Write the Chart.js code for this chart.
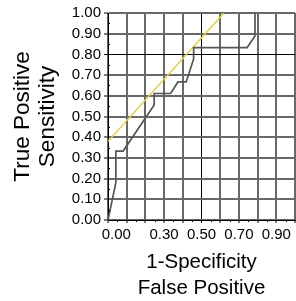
<!DOCTYPE html>
<html>
<head>
<meta charset="utf-8">
<script src="https://cdn.jsdelivr.net/npm/chart.js@4"></script>
<style>
html,body{margin:0;padding:0;background:#fff;overflow:hidden;}
#wrap{position:absolute;left:0;top:0;width:298px;height:301px;}
</style>
</head>
<body>
<div id="wrap"><canvas id="c" width="298" height="301"></canvas></div>
<script>
// ROC curve (1-specificity, sensitivity)
const rocX = [0, 0.042, 0.042, 0.081, 0.247, 0.247, 0.335, 0.374, 0.418, 0.458, 0.458, 0.744, 0.786, 0.786];
const rocY = [0, 0.18, 0.333, 0.333, 0.556, 0.611, 0.611, 0.667, 0.667, 0.778, 0.833, 0.833, 0.889, 1.0];
// Yellow reference line
const refX = [0, 0.62];
const refY = [0.38, 1.0];
// Tick labels
const yTickLabels = ['0.00','0.10','0.20','0.30','0.40','0.50','0.60','0.70','0.80','0.90','1.00'];
const xTickLabels = ['0.00','','','0.30','','0.50','','0.70','','0.90',''];
const minorTicks = [0.05,0.15,0.25,0.35,0.45,0.55,0.65,0.75,0.85,0.95];
const xTitle = ['1-Specificity','False Positive'];
const yTitle = ['True Positive','Sensitivity'];

const toPts = (xs, ys) => xs.map((v, i) => ({x: v, y: ys[i]}));

const minorPlugin = {
  id: 'minorTicks',
  afterDraw(chart) {
    const {ctx, scales: {x, y}, chartArea: a} = chart;
    ctx.save();
    ctx.strokeStyle = '#000';
    ctx.lineWidth = 1;
    ctx.beginPath();
    minorTicks.forEach(v => {
      const px = Math.round(x.getPixelForValue(v)) + 0.5;
      ctx.moveTo(px, a.bottom); ctx.lineTo(px, a.bottom + 2);
      const py = Math.round(y.getPixelForValue(v)) + 0.5;
      ctx.moveTo(a.left, py); ctx.lineTo(a.left + 2, py);
    });
    ctx.stroke();
    ctx.restore();
  }
};

const isBold = (ctx, val) => ctx.tick && Math.abs(ctx.tick.value - val) < 1e-6;

new Chart(document.getElementById('c'), {
  type: 'line',
  data: {
    datasets: [
      {
        data: toPts(rocX, rocY),
        borderColor: '#555555',
        borderWidth: 1.7,
        pointRadius: 0,
        tension: 0,
        fill: false
      },
      {
        data: toPts(refX, refY),
        borderColor: '#e0d144',
        borderWidth: 1.5,
        pointRadius: 0,
        tension: 0,
        fill: false
      }
    ]
  },
  options: {
    responsive: false,
    animation: false,
    devicePixelRatio: 1,
    layout: {padding: {top: 13, left: 0, right: 0, bottom: 0}},
    plugins: {legend: {display: false}, tooltip: {enabled: false}},
    scales: {
      x: {
        type: 'linear',
        min: 0, max: 1,
        afterFit(s) { s.height = 81; },
        afterBuildTicks(s) { s.ticks = xTickLabels.map((l, i) => ({value: i / 10})); },
        ticks: {
          autoSkip: false,
          maxRotation: 0,
          padding: 3,
          color: '#000',
          font: {family: 'Liberation Sans', size: 15},
          callback: (v, i) => i === 0 ? '    ' + xTickLabels[0] : xTickLabels[i]
        },
        grid: {
          color: c => isBold(c, 0.5) ? '#000' : '#676767',
          lineWidth: c => isBold(c, 0.5) ? 1 : 2,
          tickColor: '#000',
          tickWidth: 1,
          tickLength: 3
        },
        border: {color: '#000', width: 1},
        title: {
          display: true,
          text: xTitle,
          color: '#000',
          font: {family: 'Liberation Sans', size: 20.5, lineHeight: 1.29},
          padding: {top: 0, bottom: -1}
        }
      },
      y: {
        type: 'linear',
        min: 0, max: 1,
        afterFit(s) { s.width = 108; },
        afterBuildTicks(s) { s.ticks = yTickLabels.map((l, i) => ({value: i / 10})); },
        ticks: {
          autoSkip: false,
          padding: 3,
          color: '#000',
          font: {family: 'Liberation Sans', size: 15},
          callback: (v, i) => yTickLabels[i]
        },
        grid: {
          color: c => isBold(c, 0.8) ? '#000' : '#676767',
          lineWidth: c => isBold(c, 0.8) ? 1 : 2,
          tickColor: '#000',
          tickWidth: 1,
          tickLength: 4
        },
        border: {color: '#000', width: 1},
        title: {
          display: true,
          text: yTitle,
          color: '#000',
          font: {family: 'Liberation Sans', size: 22.5, lineHeight: 1.1},
          padding: {top: 10.5, bottom: 0}
        }
      }
    }
  },
  plugins: [minorPlugin]
});
</script>
</body>
</html>
